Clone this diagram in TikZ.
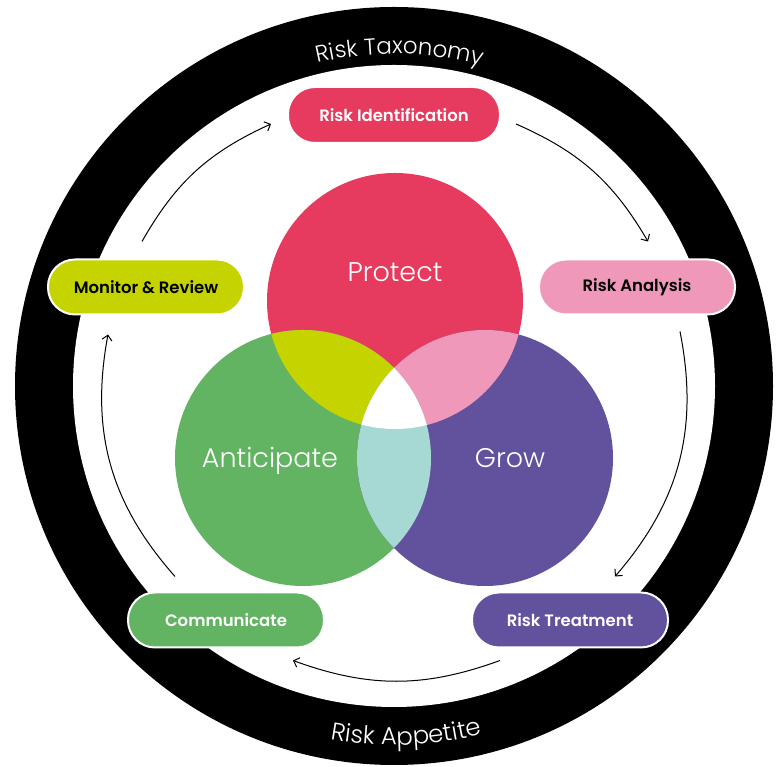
\documentclass[tikz,border=0pt]{standalone}
\usepackage{fontspec}
\setmainfont{Poppins}
\newfontfamily\lightfont{Poppins Light}
\newfontfamily\pillfont{Poppins SemiBold}
\usetikzlibrary{arrows.meta}
\usetikzlibrary{decorations.text}
\definecolor{protectred}{HTML}{E63B5F}
\definecolor{anticgreen}{HTML}{62B462}
\definecolor{growpurple}{HTML}{62519C}
\definecolor{lime}{HTML}{C5D400}
\definecolor{rose}{HTML}{F098BA}
\definecolor{mint}{HTML}{A6D8D4}
\newcommand\ringfont{\lightfont\fontsize{23}{23}\selectfont}
\newcommand\ringfontb{\lightfont\fontsize{24.5}{24.5}\selectfont}

\begin{document}
\begin{tikzpicture}[x=1pt, y=1pt,
		pill/.style = {rectangle, rounded corners=27pt, draw=white, line width=2pt, minimum width=196pt, minimum height=55pt, font=\pillfont\fontsize{16.5}{16.5}\selectfont},
		venn/.style = {text=white, font=\lightfont\fontsize{27}{27}\selectfont},
		flow/.style = {-{Straight Barb[length=5pt, width=10pt]}, line width=1pt},
		]
		\useasboundingbox (0,0) rectangle (782,767);
		
		% outer ring
		\coordinate (c) at (394,381);
		\fill[black] (c) circle[radius=379];
		\fill[white] (c) circle[radius=321];
		\path[decorate, decoration={text along path, text align=center, text color=white, text={|\ringfont|Risk Taxonomy}}]
			(c) ++(165:332) arc[start angle=165, end angle=13, radius=332];
		\path[decorate, decoration={text along path, text align=center, text color=white, text={|\ringfontb|Risk Appetite}}]
			(c) ++(200:359) arc[start angle=200, end angle=344, radius=359];
		
		% venn
		\coordinate (p) at (395,466);
		\coordinate (a) at (303,309);
		\coordinate (g) at (485,309);
		\fill[protectred]	(p) circle[radius=128];
		\fill[anticgreen]	(a) circle[radius=128];
		\fill[growpurple]	(g) circle[radius=128];
		\begin{scope}
			\clip (p) circle[radius=128];
			\fill[lime] (a) circle[radius=128];
			\fill[rose] (g) circle[radius=128];
		\end{scope}
		\begin{scope}
			\clip (a) circle[radius=128];
			\fill[mint] (g) circle[radius=128];
		\end{scope}
		\begin{scope}
			\clip (p) circle[radius=128];
			\clip (a) circle[radius=128];
			\fill[white] (g) circle[radius=128];
		\end{scope}
		\node[venn] (protectlbl)	at (395,495) {Protect};
		\node[venn] (anticlbl)		at (270,306) {Anticipate};
		\node[venn] (growlbl)		at (510,309) {Grow};
		
		% process steps
		\node[pill, fill=protectred, text=white, minimum width=212pt, minimum height=56pt] (ri) at (394,652) {Risk Identification};
		\node[pill, fill=rose] (ra) at (637,480) {Risk Analysis};
		\node[pill, fill=growpurple, text=white] (rt) at (570,147) {Risk Treatment};
		\node[pill, fill=anticgreen, text=white] (co) at (226,147) {Communicate};
		\node[pill, fill=lime] (mr) at (146,480) {Monitor \& Review};
		
		\draw[flow]	([shift={(-4,17)}]mr.north)		to[bend left=18]	([shift={(-16,-9)}]ri.west);
		\draw[flow]	([shift={(15,-9)}]ri.east)		to[bend left=18]	([shift={(11,17)}]ra.north);
		\draw[flow]	([shift={(43,-16)}]ra.south)	to[bend left=26]	([shift={(45,15)}]rt.north);
		\draw[flow]	([shift={(-70,-12)}]rt.south)	to[bend left=20]	([shift={(67,-12)}]co.south);
		\draw[flow]	([shift={(-51,15)}]co.north)	to[bend left=26]	([shift={(-38,-19)}]mr.south);
	\end{tikzpicture}
\end{document}
